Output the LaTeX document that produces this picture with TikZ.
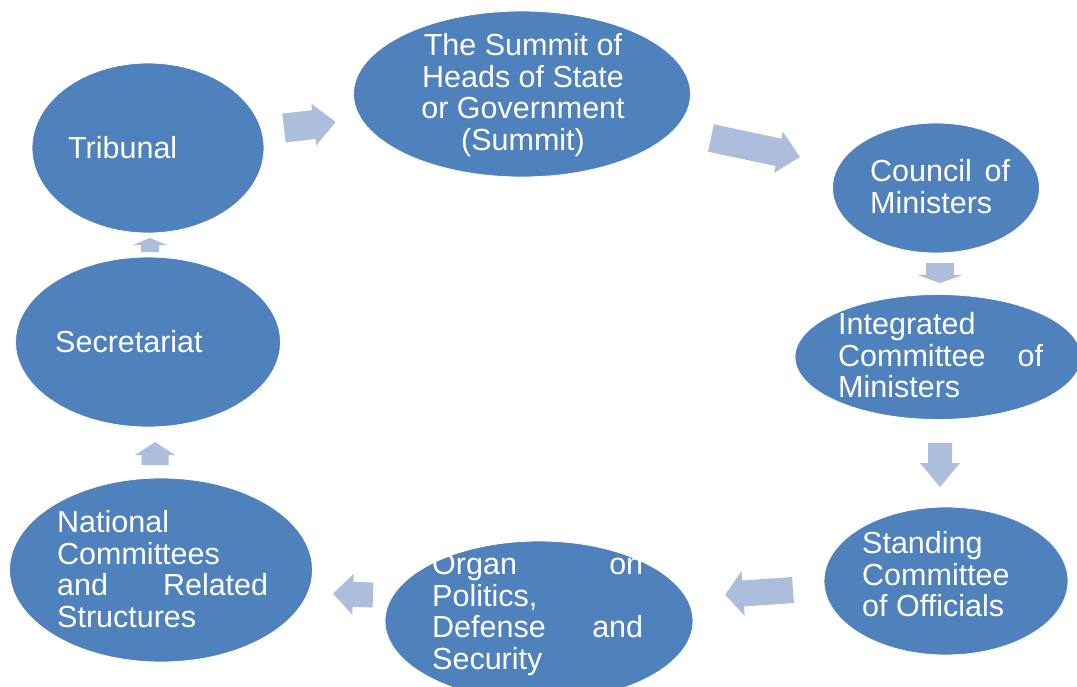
\documentclass[tikz,border=0pt]{standalone}
\usepackage{fontspec}
\setmainfont{Liberation Sans}
\usetikzlibrary{shapes.geometric}
\definecolor{ellblue}{RGB}{79,129,189}
\definecolor{arrowblue}{RGB}{173,190,221}
\newcommand\jf{\hskip 0pt plus 1fill\relax}
\tikzset{
  ell/.style={ellipse, fill=ellblue, draw=white, line width=0.8pt, inner sep=0pt},
  txt/.style={text=white, inner sep=0pt, anchor=north west, align=left,
    font=\fontsize{30.5}{31.7}\selectfont},
  pics/barrow/.style n args={4}{code={%
    \fill[arrowblue] (0,-#2/2) -- (#1-#4,-#2/2) -- (#1-#4,-#3/2) -- (#1,0)
      -- (#1-#4,#3/2) -- (#1-#4,#2/2) -- (0,#2/2) -- cycle;}}
}
\begin{document}
\begin{tikzpicture}[x=1pt,y=-1pt]
\useasboundingbox (0,0) rectangle (1077,686);
\clip (0,0) rectangle (1077,686);
\fill[white] (0,0) rectangle (1077,686);

% ellipses
\node[ell, minimum width=232pt, minimum height=170pt] (trib) at (148,148) {};
\node[ell, minimum width=337pt, minimum height=166pt] (summit) at (522,94) {};
\node[ell, minimum width=207pt, minimum height=130pt] (council) at (936,188) {};
\node[ell, minimum width=286pt, minimum height=125pt] (integ) at (938,357) {};
\node[ell, minimum width=244pt, minimum height=148pt] (standing) at (946,581) {};
\node[ell, minimum width=308pt, minimum height=160pt] (organ) at (539,621) {};
\node[ell, minimum width=303pt, minimum height=184pt] (national) at (161,570) {};
\node[ell, minimum width=265pt, minimum height=170pt] (secret) at (148,342) {};

% texts
\node[txt] (tribT) at (68,136) {Tribunal};
\node[txt] (secretT) at (55,330) {Secretariat};
\node[txt, anchor=north, align=center] (summitT) at (523,33)
  {The Summit of\\Heads of State\\or Government\\(Summit)};
\node[txt, text width=140pt] (councilT) at (870,159) {Council\jf of\\Ministers};
\node[txt, text width=205pt] (integT) at (838,312) {Integrated\\Committee\jf of\\Ministers};
\node[txt] (standingT) at (862,531) {Standing\\Committee\\of Officials};
\node[txt, text width=211pt] (nationalT) at (57,510) {National\\Committees\\and\jf Related\\Structures};
\node[txt, text width=211pt] (organT) at (432,553) {Organ\jf on\\Politics,\\Defense\jf and\\Security};

% block arrows
\pic[rotate=6.6] (a1) at (284,128) {barrow={52}{29}{42}{22}};
\pic[rotate=-12] (a2) at (711,138) {barrow={91}{28}{42}{22}};
\pic[rotate=-90] (a3) at (940,263) {barrow={20}{28}{45}{8}};
\pic[rotate=-90] (a4) at (940,443) {barrow={44}{24}{40}{24}};
\pic[rotate=184] (a5) at (793,590) {barrow={68}{26}{45}{18}};
\pic[rotate=178] (a6) at (373,595) {barrow={40}{25}{41}{20}};
\pic[rotate=90] (a7) at (155,465) {barrow={23}{27}{40}{13}};
\pic[rotate=90] (a8) at (150,252) {barrow={14}{18}{34}{7}};
\end{tikzpicture}
\end{document}
